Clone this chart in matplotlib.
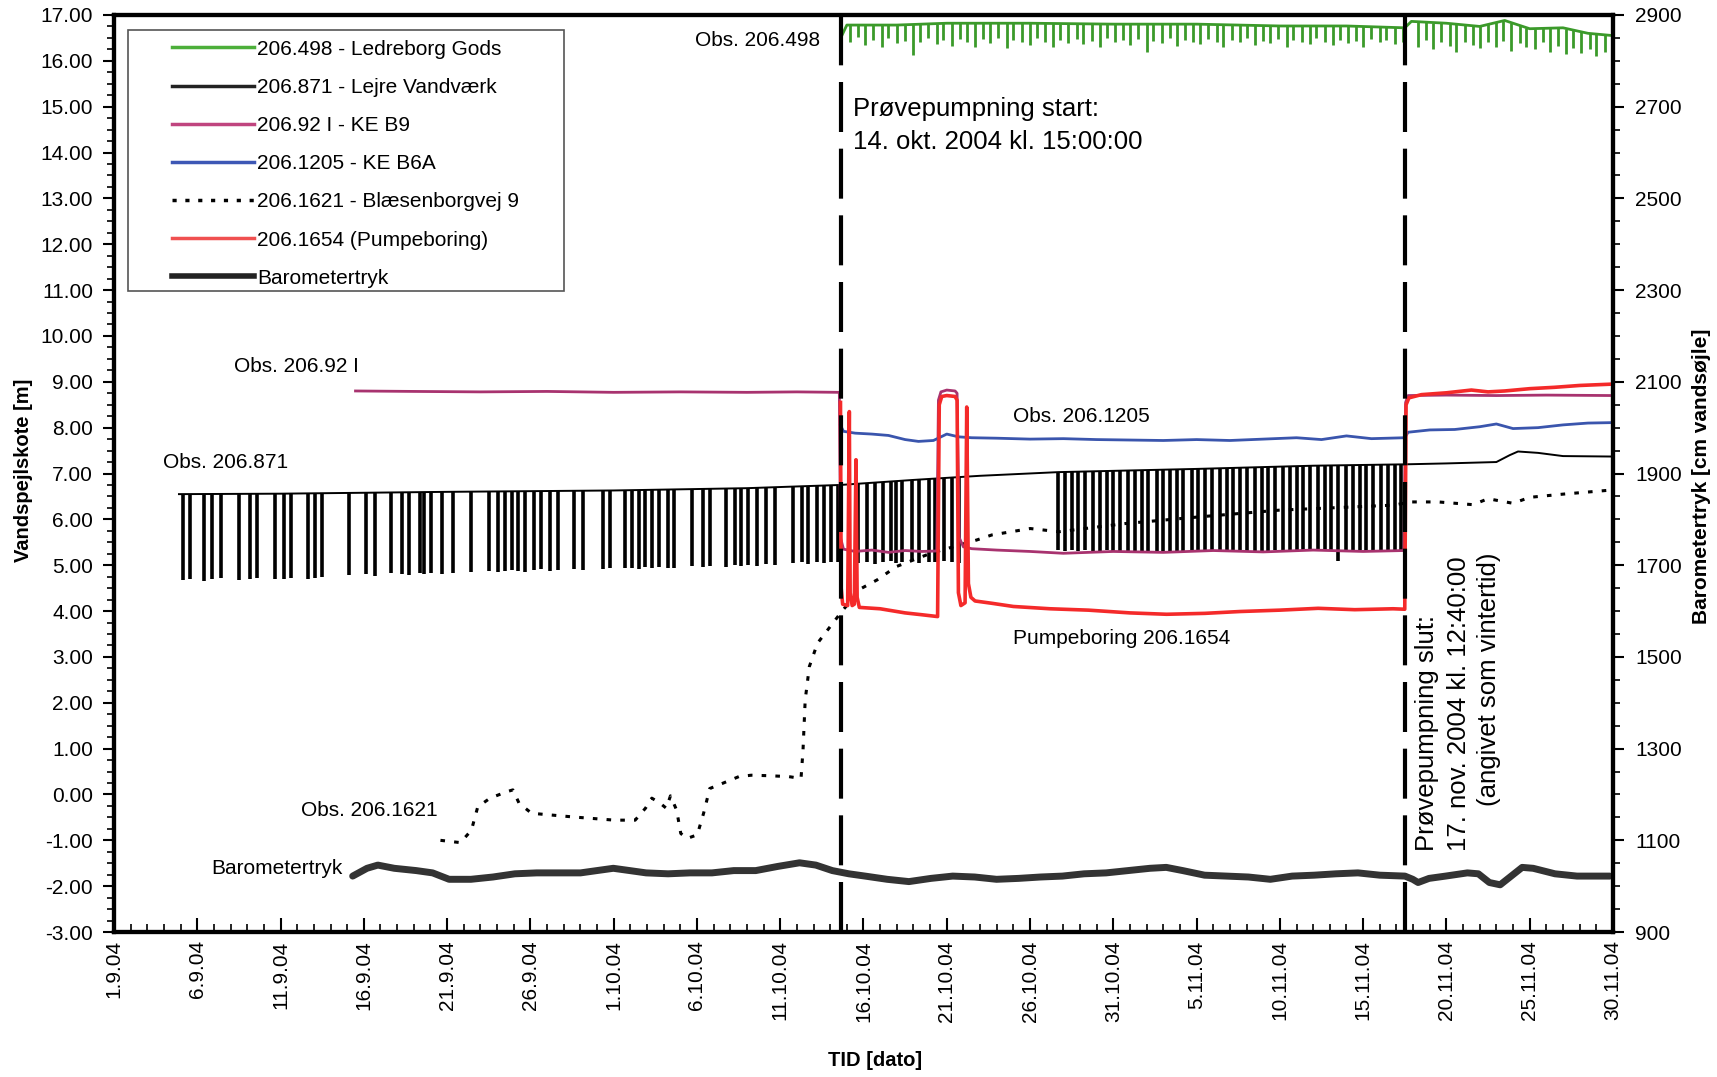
import numpy as np
import matplotlib
matplotlib.use('Agg')
import matplotlib.pyplot as plt
from matplotlib.lines import Line2D
from matplotlib.patches import Rectangle
from matplotlib.ticker import MultipleLocator
from matplotlib import font_manager

# x is days since 1.9.04
xtick_pos = [0, 5, 10, 15, 20, 25, 30, 35, 40, 45, 50, 55, 60, 65, 70, 75, 80, 85, 90]
xtick_labels = ['1.9.04', '6.9.04', '11.9.04', '16.9.04', '21.9.04', '26.9.04', '1.10.04',
                '6.10.04', '11.10.04', '16.10.04', '21.10.04', '26.10.04', '31.10.04',
                '5.11.04', '10.11.04', '15.11.04', '20.11.04', '25.11.04', '30.11.04']
start_day = 43.625   # 14.10.04 15:00
end_day = 77.53      # 17.11.04 12:40

# 206.498 - Ledreborg Gods
green_days = [43.7, 44.0, 47, 50, 55, 60, 65, 70, 74, 77.5, 77.9, 80, 82, 83.5, 85, 87, 88.5, 90]
green_vals = [16.55, 16.78, 16.78, 16.82, 16.82, 16.80, 16.80, 16.76, 16.76, 16.72, 16.86, 16.82,
              16.75, 16.88, 16.70, 16.72, 16.60, 16.55]
green_dip_days = [44.2, 44.7, 45.1, 45.6, 46.1, 46.5, 47.0, 47.5, 48.0, 48.4,
                  48.9, 49.4, 49.8, 50.3, 50.8, 51.2, 51.7, 52.2, 52.6, 53.1,
                  53.6, 54.0, 54.5, 55.0, 55.4, 55.9, 56.4, 56.8, 57.3, 57.8,
                  58.2, 58.7, 59.2, 59.6, 60.1, 60.6, 61.0, 61.5, 62.0, 62.4,
                  62.9, 63.4, 63.8, 64.3, 64.8, 65.2, 65.7, 66.2, 66.6, 67.1,
                  67.6, 68.0, 68.5, 69.0, 69.4, 69.9, 70.4, 70.8, 71.3, 71.8,
                  72.2, 72.7, 73.2, 73.6, 74.1, 74.6, 75.0, 75.5, 76.0, 76.4,
                  76.9, 77.4, 78.3, 78.8, 79.2, 79.7, 80.2, 80.6, 81.1, 81.6,
                  82.0, 82.5, 83.0, 83.4, 83.9, 84.4, 84.8, 85.3, 85.8, 86.2,
                  86.7, 87.2, 87.6, 88.1, 88.6, 89.0, 89.5]
green_dip_vals = [16.40, 16.52, 16.35, 16.45, 16.30, 16.50, 16.38, 16.44, 16.12, 16.42,
                  16.50, 16.36, 16.46, 16.33, 16.48, 16.40, 16.30, 16.47, 16.38, 16.50,
                  16.28, 16.45, 16.40, 16.35, 16.50, 16.42, 16.30, 16.46, 16.38, 16.48,
                  16.36, 16.44, 16.30, 16.50, 16.40, 16.45, 16.34, 16.48, 16.20, 16.44,
                  16.38, 16.50, 16.33, 16.46, 16.40, 16.36, 16.48, 16.42, 16.30, 16.46,
                  16.40, 16.50, 16.35, 16.44, 16.38, 16.48, 16.30, 16.45, 16.42, 16.36,
                  16.50, 16.40, 16.34, 16.46, 16.38, 16.44, 16.30, 16.48, 16.40, 16.45,
                  16.36, 16.42, 16.30, 16.45, 16.25, 16.40, 16.32, 16.20, 16.42, 16.35,
                  16.28, 16.40, 16.30, 16.44, 16.22, 16.38, 16.30, 16.25, 16.40, 16.20,
                  16.32, 16.15, 16.28, 16.18, 16.25, 16.10, 16.20]

# 206.871 - Lejre Vandvaerk (rest level + pumping drawdowns)
lejre_days = [3.9, 10, 20, 30, 38, 43.6, 48, 52, 56.7, 65, 72, 77.5, 80, 83, 83.8, 84.3, 85.5, 87, 90]
lejre_vals = [6.55, 6.56, 6.60, 6.63, 6.68, 6.75, 6.86, 6.95, 7.03, 7.10, 7.17, 7.20, 7.22, 7.25,
              7.40, 7.48, 7.45, 7.38, 7.37]
lejre_spike_days_a = [4.17, 4.57, 5.38, 5.91, 6.45, 7.52, 8.19, 8.59, 9.66, 10.20, 10.60, 11.67,
                      12.08, 12.48, 14.09, 15.16, 15.69, 16.63, 17.30, 17.70, 18.37, 18.64, 19.05,
                      19.71, 20.38, 21.45, 22.53, 23.06, 23.46, 23.87, 24.27, 24.67, 25.20, 25.61,
                      26.15, 26.68, 27.62, 28.15, 29.36, 29.76, 30.70, 31.10, 31.50, 31.90, 32.31,
                      32.71, 33.25, 33.65, 34.72, 35.39, 35.79, 36.73, 37.26, 37.67, 38.07, 38.60,
                      39.14, 39.68, 40.75, 41.28, 41.69, 42.22, 42.62, 43.03, 43.45]
lejre_spike_low_a = [4.68, 4.70, 4.66, 4.70, 4.72, 4.68, 4.70, 4.72, 4.69, 4.71, 4.73, 4.70, 4.72,
                     4.74, 4.78, 4.80, 4.77, 4.82, 4.80, 4.78, 4.82, 4.80, 4.83, 4.81, 4.84, 4.86,
                     4.88, 4.85, 4.87, 4.90, 4.88, 4.86, 4.89, 4.91, 4.88, 4.90, 4.92, 4.89, 4.92,
                     4.94, 4.93, 4.95, 4.92, 4.96, 4.94, 4.97, 4.95, 4.93, 4.98, 4.96, 4.99, 4.97,
                     5.00, 4.98, 5.01, 4.99, 5.02, 5.00, 5.04, 5.06, 5.03, 5.07, 5.05, 5.08, 5.06]
lejre_spike_days_b = [44.68, 45.24, 45.71, 46.17, 46.63, 46.97, 47.32, 47.89, 48.35, 48.93,
                      49.27, 49.84, 50.30, 50.76, 51.22]
lejre_spike_low_b = [5.05, 5.08, 5.03, 5.06, 5.10, 5.04, 5.07, 5.09, 5.05, 5.08, 5.06, 5.10,
                     5.07, 5.05, 5.08]
lejre_spike_days_c = [56.7, 57.1, 57.5, 57.9, 58.3, 58.8, 59.2, 59.6, 60.0, 60.4,
                      60.9, 61.3, 61.7, 62.1, 62.6, 63.0, 63.4, 63.8, 64.2, 64.7,
                      65.1, 65.5, 65.9, 66.4, 66.8, 67.2, 67.6, 68.0, 68.5, 68.9,
                      69.3, 69.7, 70.2, 70.6, 71.0, 71.4, 71.8, 72.3, 72.7, 73.1,
                      73.5, 74.0, 74.4, 74.8, 75.2, 75.6, 76.1, 76.5, 76.9, 77.3]
lejre_spike_low_c = [5.33, 5.32, 5.34, 5.31, 5.33, 5.30, 5.32, 5.33, 5.31, 5.30,
                     5.29, 5.31, 5.30, 5.28, 5.30, 5.29, 5.31, 5.30, 5.32, 5.31,
                     5.33, 5.32, 5.30, 5.31, 5.29, 5.30, 5.32, 5.31, 5.30, 5.32,
                     5.31, 5.33, 5.32, 5.30, 5.31, 5.33, 5.32, 5.31, 5.33, 5.32,
                     5.10, 5.32, 5.31, 5.33, 5.32, 5.34, 5.32, 5.31, 5.33, 5.32]

# 206.92 I - KE B9
kb9_days = [14.5, 18, 22, 26, 30, 34, 38, 41, 43.55, 43.62, 43.8, 44.5, 45.5, 46.5, 47.5, 48.5,
            49.4, 49.5, 49.65, 50.0, 50.5, 50.62, 50.75, 51.0, 51.5, 53, 55, 57, 60, 63, 66, 69,
            72, 75, 77.45, 77.55, 77.7, 80, 83, 86, 90]
kb9_vals = [8.80, 8.79, 8.78, 8.79, 8.77, 8.78, 8.77, 8.78, 8.77, 5.6, 5.35, 5.30, 5.33, 5.28,
            5.32, 5.30, 5.31, 8.6, 8.78, 8.82, 8.80, 8.75, 5.6, 5.40, 5.36, 5.33, 5.30, 5.26, 5.30,
            5.28, 5.32, 5.29, 5.33, 5.30, 5.32, 8.55, 8.70, 8.71, 8.70, 8.71, 8.70]

# 206.1205 - KE B6A
b6a_days = [43.62, 43.8, 44.5, 45.5, 46.5, 47.5, 48.3, 49.2, 50.0, 50.7, 51.5, 53, 55, 57, 59,
            61, 63, 65, 67, 69, 71, 72.5, 74, 75.5, 77.5, 77.7, 79, 80.5, 82, 83, 84, 85.5, 87,
            88.5, 90]
b6a_vals = [8.05, 7.92, 7.88, 7.86, 7.83, 7.74, 7.70, 7.72, 7.86, 7.80, 7.78, 7.77, 7.75, 7.76,
            7.74, 7.73, 7.72, 7.74, 7.72, 7.75, 7.78, 7.74, 7.82, 7.76, 7.78, 7.90, 7.95, 7.96,
            8.02, 8.08, 7.98, 8.00, 8.06, 8.10, 8.11]

# 206.1621 - Blaesenborgvej 9
bl_days = [19.6, 20.8, 21.46, 21.84, 22.58, 23.58, 23.95, 24.32, 25.07, 27.56, 30.05, 31.29,
           31.91, 32.29, 32.79, 33.16, 33.41, 33.78, 34.03, 34.40, 35.02, 35.40, 35.77, 36.52,
           37.52, 38.26, 39.26, 40.50, 41.25, 41.37, 41.50, 41.75, 42.24, 43.76, 44.9, 45.82,
           46.97, 49.04, 51.8, 52.71, 53.87, 55.01, 56.74, 60.76, 65.35, 69.94, 76.83, 77.9,
           79.5, 81.6, 82.5, 84.0, 85.0, 87.0, 89.6, 90]
bl_vals = [-1.0, -1.05, -0.78, -0.27, -0.08, 0.06, 0.10, -0.19, -0.41, -0.49, -0.56, -0.56,
           -0.30, -0.08, -0.19, -0.30, -0.03, -0.34, -0.85, -0.96, -0.88, -0.41, 0.13, 0.24,
           0.39, 0.42, 0.41, 0.39, 0.35, 0.97, 2.06, 2.79, 3.30, 4.02, 4.50, 4.68, 4.97, 5.26,
           5.55, 5.66, 5.73, 5.80, 5.73, 5.91, 6.06, 6.20, 6.31, 6.38, 6.38, 6.32, 6.45, 6.35,
           6.48, 6.55, 6.63, 6.64]

# 206.1654 (Pumpeboring)
pump_days = [43.62, 43.66, 43.75, 44.05, 44.15, 44.2, 44.32, 44.45, 44.55, 44.62, 44.75, 46.0,
             47.5, 48.5, 49.45, 49.55, 49.7, 50.0, 50.5, 50.62, 50.7, 50.85, 51.1, 51.2, 51.3,
             51.45, 51.7, 52.7, 54.0, 56.2, 58.5, 61.0, 63.2, 65.5, 67.6, 70.0, 72.3, 74.5, 76.8,
             77.5, 77.58, 77.75, 78.5, 80.0, 81.5, 82.5, 83.5, 85.0, 86.5, 88.0, 90.0]
pump_vals = [8.55, 4.5, 4.15, 4.12, 8.35, 4.4, 4.12, 4.15, 7.3, 4.3, 4.08, 4.05, 3.96, 3.92, 3.88,
             8.5, 8.68, 8.70, 8.68, 8.6, 4.4, 4.12, 4.18, 8.45, 4.6, 4.3, 4.22, 4.17, 4.10, 4.05,
             4.02, 3.96, 3.93, 3.95, 3.99, 4.02, 4.06, 4.03, 4.05, 4.04, 8.5, 8.65, 8.72, 8.76,
             8.82, 8.78, 8.80, 8.85, 8.88, 8.92, 8.95]

# Barometertryk [cm vandsoejle], right axis
baro_days = [14.33, 15.19, 15.84, 16.83, 18.15, 19.13, 20.12, 21.43, 22.75, 24.07, 25.38, 26.69,
             28.01, 28.99, 29.98, 30.97, 31.95, 33.27, 34.58, 35.90, 37.21, 38.53, 39.84, 41.16,
             42.14, 43.13, 44.12, 45.10, 46.42, 47.73, 49.05, 50.36, 51.68, 52.99, 54.31, 55.62,
             56.94, 58.25, 59.57, 60.88, 62.20, 63.18, 64.17, 65.48, 66.80, 68.11, 69.43, 70.74,
             72.06, 73.37, 74.69, 76.00, 77.51, 77.98, 78.30, 78.96, 79.95, 81.26, 81.92, 82.58,
             83.23, 83.89, 84.55, 85.21, 86.52, 87.84, 89.81]
baro_vals = [1022, 1039, 1046, 1039, 1034, 1029, 1015, 1015, 1020, 1027, 1029, 1029,
             1029, 1034, 1039, 1034, 1029, 1027, 1029, 1029, 1034, 1034, 1043, 1051,
             1046, 1034, 1027, 1022, 1015, 1010, 1017, 1022, 1020, 1015, 1017, 1020,
             1022, 1027, 1029, 1034, 1039, 1041, 1034, 1024, 1022, 1020, 1015, 1022,
             1024, 1027, 1029, 1024, 1022, 1015, 1008, 1017, 1022, 1029, 1027, 1008,
             1003, 1022, 1041, 1039, 1027, 1022, 1022]

legend_labels = ['206.498 - Ledreborg Gods', '206.871 - Lejre Vandværk', '206.92 I - KE B9',
                 '206.1205 - KE B6A', '206.1621 - Blæsenborgvej 9', '206.1654 (Pumpeboring)',
                 'Barometertryk']

c_green = '#3b9a2a'
c_purple = '#a8336f'
c_blue = '#3a55ad'
c_red = '#f42a2a'
c_baro = '#333333'

names = {f.name for f in font_manager.fontManager.ttflist}
if 'Liberation Sans Narrow' in names:
    narrow, nsize = 'Liberation Sans Narrow', 21
else:
    narrow, nsize = 'Liberation Sans', 18.5

plt.rcParams['font.family'] = ['Liberation Sans', 'DejaVu Sans']

fig = plt.figure(figsize=(17.17, 10.77), dpi=100)
ax = fig.add_axes([0.0664, 0.1346, 0.873, 0.8515])
ax2 = ax.twinx()

# Lejre: level line plus drawdown spikes
ax.plot(lejre_days, lejre_vals, color='black', lw=1.4, zorder=2)
sp_days = np.array(lejre_spike_days_a + lejre_spike_days_b + lejre_spike_days_c)
sp_low = np.array(lejre_spike_low_a + lejre_spike_low_b + lejre_spike_low_c)
ax.vlines(sp_days, sp_low, np.interp(sp_days, lejre_days, lejre_vals), color='black', lw=2.6, zorder=2)

ax.plot(bl_days, bl_vals, color='black', lw=2.2, dashes=(1.5, 3), zorder=2)
ax.plot(kb9_days, kb9_vals, color=c_purple, lw=2.0, zorder=3)
ax.plot(b6a_days, b6a_vals, color=c_blue, lw=2.0, zorder=3)
ax.plot(pump_days, pump_vals, color=c_red, lw=2.6, zorder=3)

gd = np.array(green_dip_days)
ax.plot(green_days, green_vals, color=c_green, lw=2.0, zorder=3)
ax.vlines(gd, green_dip_vals, np.interp(gd, green_days, green_vals), color=c_green, lw=2.0, zorder=3)

for d in (start_day, end_day):
    ax.axvline(d, color='black', lw=3, dashes=(12, 4), zorder=4)

ax2.plot(baro_days, baro_vals, color=c_baro, lw=5, solid_capstyle='round', solid_joinstyle='round')

ax.set_xlim(0, 90)
ax.set_ylim(-3, 17)
ax2.set_ylim(900, 2900)

ax.set_xticks(xtick_pos)
ax.set_xticklabels(xtick_labels, rotation=90, fontsize=15)
ax.xaxis.set_minor_locator(MultipleLocator(1))
ax.tick_params(axis='x', which='major', direction='in', length=10, width=1.5, pad=6)
ax.tick_params(axis='x', which='minor', direction='in', length=6, width=1.2)

yt = np.arange(-3, 18, 1)
ax.set_yticks(yt)
ax.set_yticklabels([f'{v:.2f}' for v in yt], fontsize=15)
ax.yaxis.set_minor_locator(MultipleLocator(0.25))
ax.tick_params(axis='y', which='major', direction='out', length=8, width=1.5, pad=7)
ax.tick_params(axis='y', which='minor', direction='out', length=5, width=1.2)

ax2.set_yticks(np.arange(900, 3000, 200))
ax2.yaxis.set_minor_locator(MultipleLocator(50))
ax2.tick_params(axis='y', which='major', direction='out', length=8, width=1.5, pad=8, labelsize=15)
ax2.tick_params(axis='y', which='minor', direction='out', length=5, width=1.2)

for a in (ax, ax2):
    for s in a.spines.values():
        s.set_linewidth(3)

nf = [narrow, 'DejaVu Sans']
ax.set_xlabel('TID [dato]', fontsize=14.5, fontweight='bold', family=nf)
ax.xaxis.set_label_coords(0.508, -0.13)
ax.set_ylabel('Vandspejlskote [m]', fontsize=14.5, fontweight='bold', family=nf)
ax.yaxis.set_label_coords(-0.054, 0.503)
ax2.set_ylabel('Barometertryk [cm vandsøjle]', fontsize=15, fontweight='bold', family=nf)
ax2.yaxis.set_label_coords(1.0526, 0.497)

# annotations
fs = 15
ax.text(42.4, 16.45, 'Obs. 206.498', fontsize=fs, ha='right', va='center')
ax.text(14.7, 9.33, 'Obs. 206.92 I', fontsize=fs, ha='right', va='center')
ax.text(10.45, 7.23, 'Obs. 206.871', fontsize=fs, ha='right', va='center')
ax.text(58.1, 8.25, 'Obs. 206.1205', fontsize=fs, ha='center', va='center')
ax.text(60.5, 3.4, 'Pumpeboring 206.1654', fontsize=fs, ha='center', va='center')
ax.text(19.46, -0.35, 'Obs. 206.1621', fontsize=fs, ha='right', va='center')
ax.text(13.74, -1.61, 'Barometertryk', fontsize=fs, ha='right', va='center')

ax.text(44.4, 14.95, 'Prøvepumpning start:', fontsize=nsize, family=nf, ha='left', va='center')
ax.text(44.4, 14.23, '14. okt. 2004 kl. 15:00:00', fontsize=nsize, family=nf, ha='left', va='center')
ax.text(78.83, -1.23, 'Prøvepumpning slut:', fontsize=nsize, family=nf, rotation=90,
        ha='center', va='bottom')
ax.text(80.74, -1.23, '17. nov. 2004 kl. 12:40:00', fontsize=nsize, family=nf, rotation=90,
        ha='center', va='bottom')
ax.text(82.58, 2.52, '(angivet som vintertid)', fontsize=nsize, family=nf, rotation=90,
        ha='center', va='center')

# legend with its own wide frame
frame = Rectangle((0.0093, 0.699), 0.291, 0.285, transform=ax2.transAxes, facecolor='white',
                  edgecolor='#555555', lw=1.2, zorder=4)
ax2.add_patch(frame)
handles = [Line2D([], [], color='#4caf3a', lw=2.5),
           Line2D([], [], color='#222222', lw=2.5),
           Line2D([], [], color='#c0457f', lw=2.5),
           Line2D([], [], color='#3d57b5', lw=2.5),
           Line2D([], [], color='black', lw=2.5, dashes=(1.2, 2.5)),
           Line2D([], [], color='#f05050', lw=2.5),
           Line2D([], [], color='#222222', lw=4)]
leg = ax2.legend(handles, legend_labels, loc='upper left', bbox_to_anchor=(0.039, 0.973),
                 frameon=False, fontsize=15, handlelength=3.9, handletextpad=0.15,
                 labelspacing=0.92, borderpad=0, borderaxespad=0)
leg.set_zorder(5)

fig.savefig('out.png', dpi=100)
